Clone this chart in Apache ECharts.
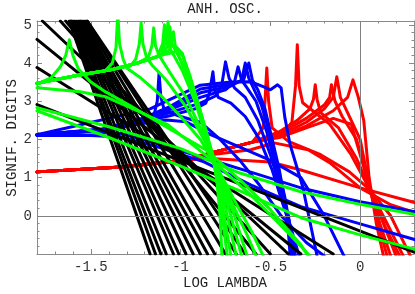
<!DOCTYPE html>
<html><head><meta charset="utf-8">
<script src="https://cdn.jsdelivr.net/npm/echarts@6/dist/echarts.min.js"></script>
<style>html,body{margin:0;padding:0;background:#fff}#c{width:415px;height:294px}</style>
</head><body><div id="c"></div>
<script>
const titleText = 'ANH. OSC.';
const xName = 'LOG LAMBDA';
const yName = 'SIGNIF. DIGITS';
const xRange = [-1.8, 0.3];
const yRange = [-1, 5.1];
const xTickLabels = [-1.5, -1, -0.5, 0];
const yTickLabels = [0, 1, 2, 3, 4, 5];

const blackLines = [
  [[-1.62,5.1],[-1.17,-1]],
  [[-1.61,5.1],[-1.14,-1]],
  [[-1.61,5.1],[-1.11,-1]],
  [[-1.60,5.1],[-1.08,-1]],
  [[-1.59,5.1],[-1.04,-1]],
  [[-1.58,5.1],[-1.01,-1]],
  [[-1.57,5.1],[-0.97,-1]],
  [[-1.56,5.1],[-0.93,-1]],
  [[-1.56,5.1],[-0.89,-1]],
  [[-1.55,5.1],[-0.85,-1]],
  [[-1.54,5.1],[-0.81,-1]],
  [[-1.53,5.1],[-0.75,-1]],
  [[-1.52,5.1],[-0.69,-1]],
  [[-1.52,5.1],[-0.64,-1]],
  [[-1.64,5.1],[-0.58,-1]],
  [[-1.67,5.1],[-0.50,-1]],
  [[-1.77,5.1],[-0.40,-1]],
  [[-1.8,4.62],[-0.33,-1]],
  [[-1.8,3.88],[-0.15,-1]],
  [[-1.8,2.91],[0.3,-0.95]]
];

const greenCurves = [
  [[-1.8,2.83],[-1.4,2.33],[-1.0,1.76],[-0.67,1.12],[-0.33,0.63],[0,0.3],[0.31,0.03]],
  [[-1.8,2.75],[-1.4,2.05],[-1.0,1.3],[-0.67,0.65],[-0.33,-0.05],[0,-0.5],[0.31,-0.88]],
  [[-1.8,3.35],[-1.56,3.25],[-1.42,3.12],[-1.28,2.83],[-1.07,2.38],[-0.83,1.47],[-0.61,0.55],[-0.39,-0.5],[-0.28,-1.05]],
  [[-1.8,3.45],[-1.72,3.62],[-1.67,3.9],[-1.64,4.2],[-1.62,4.61],[-1.6,4.2],[-1.57,3.85],[-1.5,3.5],[-1.42,3.25],[-1.28,2.88],[-1.07,2.3],[-0.86,1.73],[-0.67,0.94],[-0.5,0.16],[-0.33,-0.76],[-0.29,-1.05]],
  [[-1.8,3.47],[-1.57,3.68],[-1.42,3.8],[-1.38,4.0],[-1.36,4.4],[-1.35,5.3],[-1.34,4.5],[-1.32,4.1],[-1.3,3.87],[-1.22,3.6],[-1.11,3.15],[-1.0,2.6],[-0.89,2.0],[-0.8,1.3],[-0.7,0.4],[-0.6,-0.45],[-0.54,-1.05]],
  [[-1.8,3.47],[-1.57,3.68],[-1.39,3.82],[-1.28,3.92],[-1.25,4.1],[-1.23,4.5],[-1.22,5.05],[-1.21,4.5],[-1.19,4.15],[-1.16,3.95],[-1.08,3.55],[-0.97,2.85],[-0.87,2.0],[-0.79,1.2],[-0.71,0.3],[-0.63,-0.5],[-0.58,-1.05]],
  [[-1.8,3.47],[-1.57,3.68],[-1.39,3.82],[-1.24,4.0],[-1.18,4.15],[-1.16,4.45],[-1.15,4.92],[-1.14,4.45],[-1.12,4.2],[-1.06,3.75],[-0.97,3.1],[-0.88,2.2],[-0.84,1.75],[-0.78,1.0],[-0.7,0.0],[-0.63,-1.05]],
  [[-1.8,3.47],[-1.57,3.68],[-1.39,3.82],[-1.24,4.0],[-1.13,4.16],[-1.1,4.5],[-1.09,5.0],[-1.08,4.55],[-1.05,4.3],[-0.99,3.8],[-0.92,3.0],[-0.86,2.1],[-0.83,1.7],[-0.78,0.9],[-0.72,0.0],[-0.66,-1.05]],
  [[-1.8,3.47],[-1.57,3.68],[-1.39,3.82],[-1.24,4.0],[-1.11,4.2],[-1.08,4.6],[-1.07,5.08],[-1.06,4.6],[-1.03,4.35],[-0.97,3.8],[-0.9,2.9],[-0.85,2.05],[-0.82,1.6],[-0.78,0.8],[-0.74,0.0],[-0.69,-1.05]],
  [[-1.8,3.47],[-1.57,3.68],[-1.39,3.82],[-1.24,4.0],[-1.11,4.2],[-1.07,4.45],[-1.06,4.95],[-1.05,4.5],[-1.02,4.3],[-0.96,3.6],[-0.9,2.8],[-0.85,2.0],[-0.82,1.5],[-0.78,0.6],[-0.75,-0.2],[-0.72,-1.05]],
  [[-1.8,3.47],[-1.57,3.68],[-1.39,3.82],[-1.24,4.0],[-1.11,4.2],[-1.06,4.35],[-1.04,4.82],[-1.03,4.45],[-0.99,4.25],[-0.93,3.3],[-0.88,2.5],[-0.84,1.85],[-0.81,1.3],[-0.78,0.5],[-0.76,-0.3],[-0.74,-1.05]],
  [[-1.8,3.47],[-1.57,3.68],[-1.39,3.82],[-1.24,4.0],[-1.11,4.2],[-1.02,4.3],[-0.99,4.2],[-0.95,3.7],[-0.9,2.9],[-0.85,2.1],[-0.82,1.5],[-0.8,1.0],[-0.78,0.0],[-0.77,-1.05]]
];

const blueCurves = [
  [[-1.8,2.12],[-1.5,2.2],[-1.33,2.15],[-1.11,1.86],[-0.87,1.52],[-0.56,1.07],[-0.33,0.73],[0,0.37],[0.31,0.1]],
  [[-1.8,2.1],[-1.5,2.1],[-1.33,2.06],[-1.11,1.78],[-0.87,1.41],[-0.61,0.81],[-0.33,0.24],[0,-0.21],[0.31,-0.63]],
  [[-1.8,2.12],[-1.44,2.23],[-1.22,2.41],[-1.08,2.51],[-0.97,2.46],[-0.83,2.12],[-0.67,1.8],[-0.5,1.45],[-0.33,1.0],[-0.2,0.0],[-0.09,-1.05]],
  [[-1.8,2.12],[-1.44,2.24],[-1.22,2.45],[-1.15,2.6],[-1.13,3.0],[-1.12,3.74],[-1.11,3.1],[-1.09,2.75],[-1.0,2.6],[-0.89,2.45],[-0.78,2.0],[-0.67,1.45],[-0.56,0.8],[-0.44,0.0],[-0.3,-0.7],[-0.2,-1.05]],
  [[-1.8,2.12],[-1.44,2.25],[-1.22,2.46],[-1.06,2.62],[-0.92,2.8],[-0.86,2.95],[-0.84,3.2],[-0.82,3.77],[-0.81,3.3],[-0.79,3.1],[-0.72,2.95],[-0.64,2.6],[-0.56,2.0],[-0.49,1.2],[-0.43,0.3],[-0.38,-0.4],[-0.34,-1.05]],
  [[-1.8,2.12],[-1.44,2.25],[-1.22,2.48],[-1.06,2.7],[-0.89,2.95],[-0.8,3.15],[-0.77,3.45],[-0.75,4.03],[-0.73,3.6],[-0.7,3.35],[-0.64,3.1],[-0.57,2.5],[-0.5,1.6],[-0.45,0.8],[-0.4,0.0],[-0.36,-1.05]],
  [[-1.8,2.12],[-1.44,2.25],[-1.22,2.5],[-1.06,2.78],[-0.89,3.1],[-0.75,3.3],[-0.7,3.5],[-0.68,3.9],[-0.66,3.55],[-0.63,3.35],[-0.58,3.0],[-0.52,2.2],[-0.47,1.3],[-0.42,0.4],[-0.39,-0.3],[-0.37,-1.05]],
  [[-1.8,2.12],[-1.44,2.26],[-1.22,2.52],[-1.06,2.82],[-0.89,3.22],[-0.72,3.4],[-0.66,3.55],[-0.64,4.0],[-0.62,3.6],[-0.6,3.4],[-0.55,2.9],[-0.5,2.1],[-0.46,1.3],[-0.42,0.5],[-0.39,-0.3],[-0.38,-1.05]],
  [[-1.8,2.12],[-1.44,2.27],[-1.22,2.54],[-1.06,2.86],[-0.89,3.32],[-0.72,3.45],[-0.65,3.55],[-0.62,4.0],[-0.6,3.55],[-0.57,3.3],[-0.53,2.8],[-0.49,2.0],[-0.45,1.2],[-0.42,0.4],[-0.4,-0.4],[-0.39,-1.05]],
  [[-1.8,2.12],[-1.17,2.8],[-0.89,3.42],[-0.72,3.5],[-0.61,3.51],[-0.54,3.38],[-0.5,3.3],[-0.46,3.43],[-0.44,3.35],[-0.42,2.59],[-0.39,1.86],[-0.32,0.76],[-0.24,-1.05]]
];

const redCurves = [
  [[-1.8,1.15],[-1.33,1.28],[-0.96,1.47],[-0.83,1.5],[-0.5,1.41],[-0.33,1.2],[0,0.73],[0.31,0.34]],
  [[-1.8,1.15],[-1.33,1.28],[-0.96,1.47],[-0.83,1.6],[-0.61,1.73],[-0.48,1.91],[-0.29,1.73],[-0.17,1.39],[0,0.73],[0.17,0.29],[0.31,0.08]],
  [[-1.8,1.15],[-1.33,1.28],[-0.96,1.47],[-0.85,1.62],[-0.6,1.93],[-0.54,2.3],[-0.53,3.0],[-0.52,3.87],[-0.51,3.0],[-0.49,2.3],[-0.4,1.95],[-0.22,1.6],[-0.06,1.15],[0.05,0.7],[0.17,0.0],[0.28,-1.05]],
  [[-1.8,1.15],[-1.33,1.28],[-0.96,1.47],[-0.85,1.62],[-0.6,1.93],[-0.5,2.05],[-0.42,2.2],[-0.38,2.45],[-0.36,3.4],[-0.35,4.48],[-0.34,3.4],[-0.32,2.96],[-0.17,2.4],[-0.05,1.6],[0.05,0.72],[0.15,-0.2],[0.24,-1.05]],
  [[-1.8,1.15],[-1.33,1.28],[-0.96,1.47],[-0.85,1.62],[-0.6,1.93],[-0.45,2.2],[-0.35,2.5],[-0.28,2.8],[-0.26,3.05],[-0.25,3.43],[-0.24,3.05],[-0.22,2.7],[-0.12,2.3],[-0.02,1.5],[0.05,0.75],[0.13,-0.2],[0.2,-1.05]],
  [[-1.8,1.15],[-1.33,1.28],[-0.96,1.47],[-0.85,1.62],[-0.6,1.93],[-0.45,2.15],[-0.3,2.55],[-0.2,2.9],[-0.17,3.1],[-0.16,3.43],[-0.14,3.0],[-0.1,2.6],[-0.02,2.0],[0.05,0.8],[0.11,-0.2],[0.17,-1.05]],
  [[-1.8,1.15],[-1.33,1.28],[-0.96,1.47],[-0.85,1.62],[-0.6,1.93],[-0.45,2.1],[-0.3,2.45],[-0.2,2.8],[-0.15,3.1],[-0.13,3.64],[-0.11,3.1],[-0.07,2.7],[0.0,2.0],[0.05,0.8],[0.1,-0.2],[0.15,-1.05]],
  [[-1.8,1.15],[-1.33,1.28],[-0.96,1.47],[-0.85,1.62],[-0.6,1.93],[-0.45,2.08],[-0.3,2.35],[-0.15,2.75],[-0.07,3.1],[-0.04,3.56],[-0.01,3.1],[0.02,2.5],[0.05,1.0],[0.09,-0.2],[0.13,-1.05]],
  [[-1.8,1.15],[-1.33,1.28],[-0.96,1.47],[-0.85,1.62],[-0.6,1.93],[-0.45,2.05],[-0.3,2.3],[-0.15,2.55],[-0.05,2.4],[0.0,1.6],[0.05,0.8],[0.14,-0.3],[0.22,-1.05]]
];

const FONT = 'Liberation Mono';
const FRAME = '#8a8a8a';
const chart = echarts.init(document.getElementById('c'), null, {renderer: 'canvas'});

function curve(pts, color, z) {
  return {type: 'line', data: pts, xAxisIndex: 0, yAxisIndex: 0, symbol: 'none', showSymbol: false,
    smooth: false, silent: true, animation: false, z: z, clip: true,
    lineStyle: {color: color, width: 3, join: 'round', cap: 'round'}, itemStyle: {color: color}};
}

const series = [{
  type: 'line', data: [], xAxisIndex: 0, yAxisIndex: 0, silent: true, animation: false, z: 1,
  markLine: {silent: true, symbol: 'none', animation: false, label: {show: false},
    lineStyle: {color: '#808080', width: 1, type: 'solid'}, data: [{xAxis: 0}, {yAxis: 0}]}
}];
redCurves.forEach(p => series.push(curve(p, '#ff0000', 2)));
blueCurves.forEach(p => series.push(curve(p, '#0000ff', 3)));
blackLines.forEach(p => series.push(curve(p, '#000000', 4)));
greenCurves.forEach(p => series.push(curve(p, '#00ff00', 5)));

function xAxisPair(pos, labels) {
  return [
    {type: 'value', position: pos, min: xRange[0], max: xRange[1], interval: 0.1,
      axisLine: {show: true, onZero: false, lineStyle: {color: FRAME, width: 1}},
      axisTick: {show: true, inside: true, length: 2.5, lineStyle: {color: FRAME}},
      axisLabel: {show: false}, splitLine: {show: false}},
    {type: 'value', position: pos, min: xRange[0], max: xRange[1],
      axisLine: {show: false, onZero: false},
      axisTick: {show: true, inside: true, length: 5, customValues: xTickLabels, lineStyle: {color: FRAME}},
      axisLabel: {show: labels, customValues: xTickLabels, margin: 6, fontFamily: FONT, fontSize: 14, color: '#333',
        formatter: v => String(v)},
      splitLine: {show: false}}
  ];
}
function yAxisPair(pos, labels) {
  return [
    {type: 'value', position: pos, min: yRange[0], max: yRange[1], interval: 0.2,
      axisLine: {show: true, onZero: false, lineStyle: {color: FRAME, width: 1}},
      axisTick: {show: true, inside: true, length: 2.5, lineStyle: {color: FRAME}},
      axisLabel: {show: false}, splitLine: {show: false}},
    {type: 'value', position: pos, min: yRange[0], max: yRange[1],
      axisLine: {show: false, onZero: false},
      axisTick: {show: true, inside: true, length: 5, customValues: [-1].concat(yTickLabels), lineStyle: {color: FRAME}},
      axisLabel: {show: labels, customValues: yTickLabels, margin: 5, fontFamily: FONT, fontSize: 14, color: '#333',
        formatter: v => String(v)},
      splitLine: {show: false}}
  ];
}

chart.setOption({
  animation: false,
  backgroundColor: '#ffffff',
  grid: {left: 37, right: 1, top: 21, bottom: 40, containLabel: false},
  xAxis: xAxisPair('bottom', true).concat(xAxisPair('top', false)),
  yAxis: yAxisPair('left', true).concat(yAxisPair('right', false)),
  graphic: [
    {type: 'text', x: 225, y: 9, silent: true,
      style: {text: titleText, fontFamily: FONT, fontSize: 14, fill: '#222', align: 'center', verticalAlign: 'middle'}},
    {type: 'text', x: 225, y: 283, silent: true,
      style: {text: xName, fontFamily: FONT, fontSize: 14, fill: '#222', align: 'center', verticalAlign: 'middle'}},
    {type: 'text', x: 12, y: 138, rotation: Math.PI / 2, silent: true,
      style: {text: yName, fontFamily: FONT, fontSize: 14, fill: '#222', align: 'center', verticalAlign: 'middle'}}
  ],
  series: series
});
</script>
</body></html>
